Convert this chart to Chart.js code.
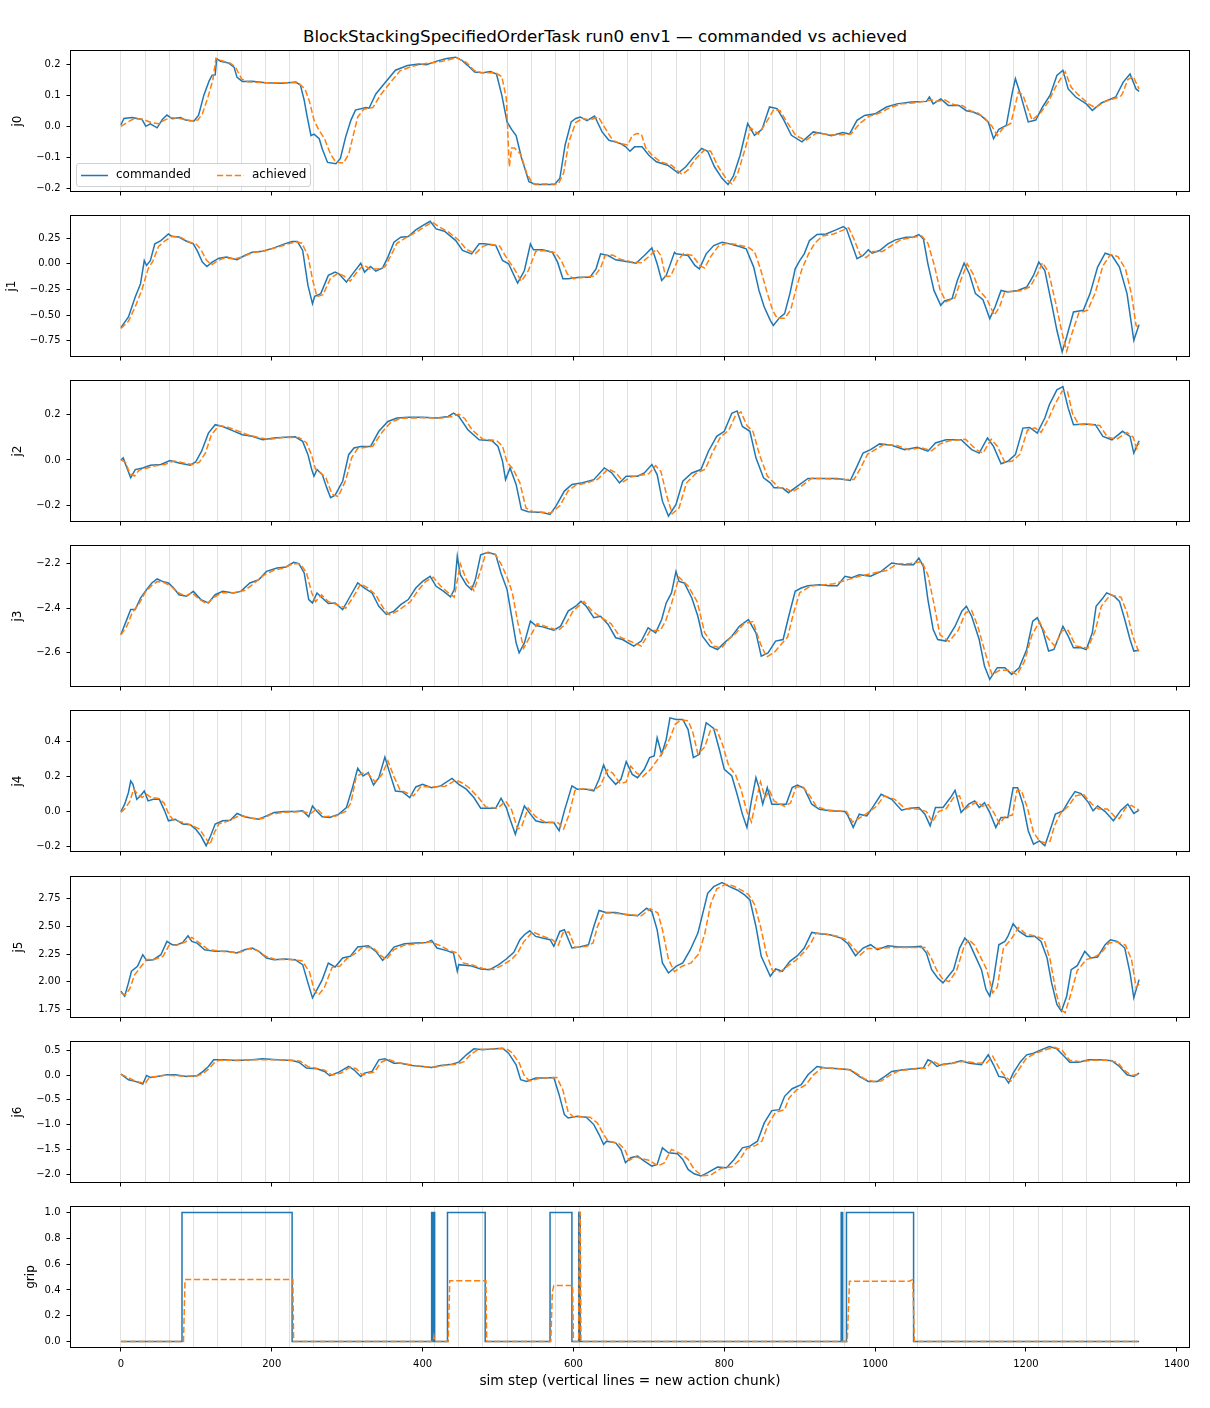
<!DOCTYPE html>
<html lang="en">
<head>
  <meta charset="UTF-8" />
  <title>BlockStackingSpecifiedOrderTask run0 env1 — commanded vs achieved</title>
  <script src="https://cdn.jsdelivr.net/npm/chart.js"></script>
  <style>
    body {
      margin: 0;
      background: #ffffff;
      font-family: 'DejaVu Sans', sans-serif;
    }

    #fig {
      position: relative;
      width: 1210px;
      height: 1408px;
      overflow: hidden;
    }

    h1 {
      position: absolute;
      top: 26px;
      left: 0;
      width: 1210px;
      margin: 0;
      text-align: center;
      font-size: 16.7px;
      line-height: 20px;
      font-weight: normal;
      color: #000;
    }

    canvas {
      position: absolute;
      left: 0;
    }

    .legend {
      position: absolute;
      left: 76px;
      top: 163px;
      width: 233px;
      height: 22px;
      border: 1px solid #d0d0d0;
      border-radius: 3px;
      background: rgba(255, 255, 255, 0.8);
      font-size: 12px;
      color: #000;
      z-index: 5;
    }

    .legend svg {
      position: absolute;
      top: 0;
      left: 0;
    }

    .legend span {
      position: absolute;
      top: 3px;
      line-height: 15px;
    }
  </style>
</head>

<body>
  <div id="fig">
    <h1>BlockStackingSpecifiedOrderTask run0 env1 — commanded vs achieved</h1>
    <div class="legend">
      <svg width="233" height="22">
        <line x1="4" y1="11.5" x2="31" y2="11.5" stroke="#1f77b4" stroke-width="1.5" />
        <line x1="140" y1="11.5" x2="167" y2="11.5" stroke="#ff7f0e" stroke-width="1.5" stroke-dasharray="6.2 2.7" />
      </svg>
      <span style="left:39px">commanded</span>
      <span style="left:175px">achieved</span>
    </div>
  </div>

  <script>
    // [sim step, value]
    const j0Cmd = [[0,.005],[4,.025],[15,.028],[28,.022],[33,0],[39,.008],[48,-.005],[55,.022],[61,.036],[68,.024],[79,.028],[86,.02],[97,.017],[103,.036],[110,.1],[117,.146],[121,.164],[125,.165],[127,.217],[132,.209],[143,.203],[150,.19],[154,.157],[161,.144],[174,.145],[192,.14],[214,.138],[232,.142],[238,.132],[243,.084],[247,.03],[252,-.03],[256,-.025],[263,-.04],[267,-.073],[274,-.116],[285,-.12],[291,-.103],[298,-.034],[305,.02],[311,.052],[325,.06],[329,.058],[338,.104],[351,.142],[364,.18],[380,.195],[395,.2],[405,.198],[420,.21],[432,.218],[444,.222],[452,.212],[460,.195],[469,.174],[480,.172],[490,.176],[498,.168],[505,.1],[512,.014],[518,-.01],[524,-.03],[531,-.1],[541,-.178],[550,-.187],[575,-.187],[582,-.167],[589,-.06],[597,.014],[603,.025],[609,.03],[618,.018],[628,.033],[638,-.018],[647,-.045],[655,-.05],[662,-.055],[669,-.065],[675,-.08],[681,-.066],[691,-.066],[700,-.093],[710,-.114],[725,-.125],[739,-.15],[749,-.13],[758,-.103],[770,-.071],[778,-.08],[787,-.13],[797,-.167],[805,-.187],[812,-.16],[821,-.093],[831,.009],[840,-.029],[850,-.01],[860,.062],[870,.057],[879,.02],[889,-.029],[903,-.05],[918,-.018],[928,-.022],[942,-.03],[957,-.02],[966,-.025],[976,.019],[986,.035],[1000,.04],[1015,.062],[1029,.072],[1048,.078],[1068,.08],[1072,.094],[1077,.072],[1087,.088],[1097,.067],[1111,.067],[1121,.05],[1130,.046],[1140,.035],[1150,.014],[1157,-.04],[1164,-.01],[1174,.003],[1182,.11],[1186,.153],[1193,.1],[1203,.014],[1213,.02],[1222,.062],[1232,.1],[1241,.163],[1249,.18],[1256,.12],[1266,.094],[1280,.072],[1288,.051],[1300,.075],[1319,.094],[1329,.142],[1338,.168],[1346,.12],[1350,.112]];
    const j0Ach = [[0,0],[10,.015],[18,.025],[30,.022],[40,.012],[50,.008],[58,.02],[66,.028],[80,.024],[92,.017],[102,.02],[108,.04],[115,.09],[122,.15],[126,.218],[132,.212],[145,.203],[152,.19],[160,.152],[168,.143],[190,.14],[235,.14],[244,.12],[250,.08],[256,.02],[262,-.01],[270,-.04],[278,-.09],[285,-.115],[295,-.118],[302,-.09],[308,-.03],[314,.03],[322,.055],[334,.06],[344,.1],[357,.14],[370,.178],[385,.192],[400,.2],[425,.208],[445,.22],[458,.205],[468,.18],[478,.172],[496,.172],[505,.16],[511,.09],[515,-.13],[518,-.07],[522,-.07],[530,-.09],[538,-.15],[546,-.185],[580,-.185],[587,-.15],[594,-.05],[603,.012],[612,.025],[622,.02],[633,.03],[643,-.01],[652,-.045],[662,-.055],[672,-.06],[678,-.03],[684,-.023],[690,-.025],[696,-.07],[705,-.095],[716,-.115],[730,-.125],[744,-.155],[752,-.14],[762,-.105],[774,-.075],[782,-.08],[792,-.13],[803,-.17],[810,-.185],[818,-.15],[828,-.07],[835,-.005],[845,-.025],[855,.01],[866,.055],[874,.05],[884,.01],[895,-.03],[908,-.045],[922,-.022],[945,-.028],[968,-.025],[980,.01],[992,.032],[1005,.042],[1020,.06],[1035,.072],[1055,.076],[1075,.085],[1082,.08],[1092,.085],[1104,.07],[1116,.066],[1126,.05],[1136,.043],[1146,.025],[1155,0],[1162,-.03],[1170,-.005],[1180,.01],[1190,.11],[1196,.1],[1208,.02],[1220,.045],[1230,.08],[1240,.13],[1252,.175],[1260,.125],[1270,.1],[1284,.07],[1292,.06],[1305,.08],[1325,.095],[1328,.105],[1335,.15],[1342,.16],[1350,.12]];

    const j1Cmd = [[0,-.621],[10,-.517],[19,-.323],[26,-.194],[31,.032],[34,-.016],[39,.03],[45,.194],[53,.226],[63,.29],[68,.265],[77,.26],[87,.22],[96,.194],[101,.13],[108,.016],[114,-.026],[121,.016],[130,.055],[140,.065],[154,.039],[164,.081],[174,.113],[188,.123],[203,.155],[217,.194],[227,.217],[234,.217],[241,.13],[248,-.21],[254,-.388],[257,-.317],[265,-.29],[275,-.113],[284,-.081],[289,-.097],[299,-.178],[309,-.081],[318,.006],[323,-.081],[331,-.026],[338,-.071],[347,-.039],[354,.065],[362,.21],[371,.259],[381,.265],[391,.33],[400,.372],[410,.414],[418,.34],[429,.317],[444,.226],[453,.13],[465,.097],[475,.194],[482,.194],[497,.178],[506,.032],[514,0],[526,-.188],[535,-.065],[543,.194],[547,.136],[559,.136],[572,.113],[579,.016],[586,-.146],[593,-.146],[608,-.13],[622,-.13],[630,-.049],[636,.097],[646,.081],[656,.039],[670,.023],[683,.006],[694,.081],[704,.155],[711,0],[717,-.162],[723,-.113],[734,.112],[736,.097],[743,.09],[752,.081],[761,-.016],[767,-.049],[776,.097],[786,.178],[797,.21],[807,.194],[820,.168],[829,.146],[839,-.032],[846,-.259],[853,-.42],[861,-.55],[865,-.6],[873,-.527],[880,-.485],[887,-.29],[894,-.049],[900,.032],[906,.097],[913,.226],[923,.285],[935,.291],[948,.33],[958,.362],[962,.34],[969,.194],[976,.049],[984,.081],[991,.136],[996,.103],[1006,.129],[1017,.194],[1027,.233],[1041,.259],[1051,.262],[1058,.285],[1064,.243],[1070,0],[1078,-.259],[1087,-.404],[1092,-.362],[1102,-.34],[1109,-.162],[1118,.006],[1125,-.097],[1133,-.29],[1143,-.349],[1152,-.534],[1159,-.42],[1167,-.259],[1176,-.275],[1189,-.259],[1201,-.226],[1210,-.113],[1217,.016],[1225,-.065],[1234,-.388],[1241,-.647],[1248,-.857],[1254,-.71],[1263,-.469],[1276,-.453],[1285,-.29],[1295,-.032],[1305,.103],[1314,.081],[1324,-.032],[1334,-.29],[1343,-.744],[1350,-.592]];
    const j1Ach = [[0,-.63],[10,-.56],[20,-.4],[28,-.25],[36,-.05],[42,.02],[50,.17],[58,.22],[68,.27],[80,.255],[90,.215],[100,.19],[106,.14],[113,.04],[120,-.01],[128,.03],[138,.06],[150,.045],[162,.07],[175,.11],[190,.125],[205,.155],[220,.19],[232,.215],[240,.2],[248,.08],[254,-.15],[260,-.32],[268,-.3],[278,-.14],[288,-.09],[296,-.12],[304,-.17],[313,-.08],[322,-.01],[330,-.05],[340,-.05],[350,-.03],[358,.08],[366,.2],[378,.255],[392,.31],[402,.36],[413,.405],[422,.36],[434,.31],[448,.23],[458,.14],[470,.1],[480,.17],[490,.19],[502,.175],[512,.05],[520,-.03],[531,-.17],[540,-.07],[550,.12],[560,.13],[576,.11],[584,.03],[592,-.1],[600,-.145],[615,-.13],[628,-.12],[636,-.04],[642,.08],[652,.085],[662,.045],[676,.02],[690,.01],[700,.07],[710,.14],[716,.08],[722,-.12],[729,-.12],[738,.03],[746,.1],[758,.08],[768,-.02],[774,-.04],[782,.07],[792,.17],[803,.2],[815,.19],[832,.16],[840,.12],[848,-.05],[856,-.26],[864,-.45],[870,-.53],[880,-.53],[888,-.45],[895,-.25],[903,-.05],[912,.1],[920,.2],[930,.27],[945,.29],[955,.32],[965,.35],[972,.24],[980,.09],[988,.06],[997,.12],[1010,.12],[1022,.18],[1034,.235],[1048,.255],[1062,.27],[1070,.2],[1078,0],[1086,-.25],[1094,-.37],[1106,-.33],[1114,-.15],[1122,0],[1130,-.1],[1138,-.26],[1148,-.34],[1158,-.5],[1165,-.42],[1172,-.27],[1183,-.27],[1195,-.26],[1206,-.22],[1215,-.1],[1222,.01],[1230,-.08],[1240,-.4],[1248,-.68],[1254,-.85],[1260,-.7],[1270,-.48],[1282,-.45],[1292,-.28],[1302,-.02],[1312,.09],[1322,.07],[1332,-.05],[1340,-.3],[1346,-.6],[1350,-.62]];

    const j2Cmd = [[0,0],[3,.009],[8,-.035],[13,-.078],[19,-.042],[29,-.035],[39,-.023],[53,-.02],[65,-.003],[77,-.013],[92,-.023],[99,-.009],[107,.038],[116,.117],[125,.154],[135,.146],[148,.128],[161,.11],[174,.103],[188,.088],[203,.096],[217,.099],[231,.101],[241,.081],[248,.023],[253,-.042],[256,-.071],[260,-.042],[267,-.064],[273,-.122],[278,-.165],[284,-.154],[294,-.093],[302,.023],[309,.052],[318,.059],[331,.059],[342,.125],[354,.168],[366,.183],[381,.186],[400,.186],[419,.183],[434,.19],[441,.204],[448,.19],[460,.132],[475,.088],[492,.084],[500,.059],[506,-.006],[510,-.086],[516,-.035],[524,-.107],[531,-.216],[540,-.226],[559,-.23],[569,-.238],[577,-.201],[588,-.136],[598,-.107],[612,-.1],[627,-.086],[641,-.035],[651,-.057],[661,-.1],[670,-.071],[685,-.071],[694,-.057],[704,-.02],[711,-.064],[718,-.18],[726,-.245],[736,-.194],[745,-.093],[757,-.057],[769,-.042],[779,.038],[790,.103],[800,.125],[810,.204],[817,.214],[824,.146],[834,.125],[842,.009],[852,-.078],[861,-.1],[866,-.122],[877,-.122],[885,-.143],[897,-.114],[911,-.081],[931,-.081],[950,-.081],[967,-.09],[974,-.042],[984,.03],[994,.045],[1006,.07],[1022,.064],[1039,.045],[1056,.055],[1070,.038],[1080,.074],[1094,.088],[1114,.088],[1128,.045],[1138,.03],[1149,.096],[1157,.059],[1167,-.017],[1176,-.006],[1186,.023],[1196,.139],[1205,.142],[1215,.117],[1225,.183],[1231,.241],[1241,.306],[1249,.32],[1256,.226],[1263,.154],[1278,.157],[1292,.154],[1302,.103],[1314,.088],[1328,.125],[1338,.103],[1343,.03],[1350,.084]];
    const j2Ach = [[0,0],[6,-.01],[12,-.06],[18,-.07],[24,-.045],[35,-.035],[45,-.025],[58,-.02],[70,-.005],[82,-.012],[95,-.02],[104,-.01],[112,.03],[120,.11],[130,.15],[140,.145],[154,.128],[168,.11],[180,.1],[195,.09],[215,.098],[236,.098],[246,.075],[253,.02],[258,-.04],[266,-.06],[272,-.08],[280,-.15],[288,-.16],[298,-.09],[306,.01],[314,.05],[334,.06],[346,.12],[358,.165],[372,.182],[400,.184],[425,.183],[440,.19],[448,.2],[456,.18],[466,.13],[480,.09],[498,.085],[506,.06],[512,-.01],[520,-.04],[529,-.1],[537,-.21],[546,-.225],[570,-.232],[582,-.2],[593,-.135],[603,-.11],[618,-.1],[632,-.085],[646,-.04],[656,-.055],[666,-.095],[676,-.075],[700,-.06],[709,-.025],[716,-.05],[724,-.16],[731,-.235],[740,-.21],[750,-.1],[762,-.06],[775,-.04],[784,.03],[795,.1],[806,.13],[815,.195],[822,.21],[830,.15],[838,.125],[847,.02],[857,-.07],[866,-.1],[872,-.12],[882,-.125],[890,-.14],[902,-.115],[916,-.08],[960,-.085],[972,-.085],[980,-.04],[990,.025],[1000,.045],[1012,.068],[1030,.062],[1044,.045],[1062,.053],[1075,.04],[1086,.07],[1100,.085],[1120,.09],[1134,.045],[1143,.03],[1154,.09],[1162,.06],[1172,-.01],[1182,-.005],[1192,.025],[1202,.13],[1212,.14],[1220,.12],[1230,.18],[1238,.24],[1248,.3],[1255,.3],[1262,.2],[1270,.155],[1285,.155],[1298,.15],[1308,.1],[1320,.09],[1334,.12],[1342,.1],[1347,.05],[1350,.075]];

    const j3Cmd = [[0,-2.518],[7,-2.458],[13,-2.406],[19,-2.406],[26,-2.354],[34,-2.316],[41,-2.286],[48,-2.268],[55,-2.279],[63,-2.286],[70,-2.309],[77,-2.339],[87,-2.346],[96,-2.324],[106,-2.361],[116,-2.376],[125,-2.339],[135,-2.324],[149,-2.331],[159,-2.324],[171,-2.286],[183,-2.271],[193,-2.234],[207,-2.219],[219,-2.214],[229,-2.193],[236,-2.199],[243,-2.241],[249,-2.361],[254,-2.376],[260,-2.331],[267,-2.354],[275,-2.379],[284,-2.376],[294,-2.406],[304,-2.346],[314,-2.286],[323,-2.309],[333,-2.331],[342,-2.391],[352,-2.428],[362,-2.413],[371,-2.384],[381,-2.361],[391,-2.309],[400,-2.279],[410,-2.256],[418,-2.301],[428,-2.324],[437,-2.349],[442,-2.316],[446,-2.166],[450,-2.249],[458,-2.294],[465,-2.316],[470,-2.271],[477,-2.159],[487,-2.148],[497,-2.159],[504,-2.241],[512,-2.316],[518,-2.436],[524,-2.556],[528,-2.601],[535,-2.556],[543,-2.458],[550,-2.478],[559,-2.484],[574,-2.499],[583,-2.481],[593,-2.413],[603,-2.391],[610,-2.369],[617,-2.391],[627,-2.443],[636,-2.436],[646,-2.473],[656,-2.533],[665,-2.541],[680,-2.571],[690,-2.548],[699,-2.488],[709,-2.511],[717,-2.451],[723,-2.376],[730,-2.331],[736,-2.234],[740,-2.279],[747,-2.286],[757,-2.354],[765,-2.436],[771,-2.526],[781,-2.571],[791,-2.586],[800,-2.556],[810,-2.526],[820,-2.481],[832,-2.451],[842,-2.511],[849,-2.616],[858,-2.601],[868,-2.548],[878,-2.541],[885,-2.443],[894,-2.324],[902,-2.309],[911,-2.299],[926,-2.294],[940,-2.299],[950,-2.299],[960,-2.256],[969,-2.262],[979,-2.249],[994,-2.256],[1008,-2.234],[1022,-2.196],[1037,-2.204],[1051,-2.204],[1058,-2.174],[1064,-2.211],[1070,-2.361],[1077,-2.496],[1083,-2.541],[1094,-2.548],[1106,-2.481],[1115,-2.413],[1121,-2.391],[1128,-2.436],[1138,-2.541],[1145,-2.661],[1152,-2.721],[1162,-2.668],[1172,-2.668],[1181,-2.698],[1191,-2.668],[1201,-2.586],[1209,-2.458],[1215,-2.443],[1222,-2.496],[1230,-2.593],[1237,-2.586],[1244,-2.526],[1249,-2.481],[1256,-2.526],[1263,-2.578],[1273,-2.578],[1280,-2.586],[1288,-2.511],[1293,-2.391],[1302,-2.354],[1307,-2.331],[1317,-2.346],[1324,-2.369],[1331,-2.451],[1338,-2.541],[1343,-2.593],[1350,-2.589]];
    const j3Ach = [[0,-2.52],[8,-2.48],[15,-2.42],[24,-2.38],[32,-2.33],[40,-2.3],[48,-2.28],[58,-2.285],[66,-2.3],[76,-2.33],[86,-2.345],[94,-2.33],[104,-2.36],[114,-2.38],[124,-2.35],[134,-2.33],[150,-2.33],[164,-2.32],[176,-2.29],[190,-2.25],[202,-2.23],[215,-2.22],[228,-2.2],[238,-2.2],[246,-2.24],[253,-2.33],[258,-2.37],[266,-2.34],[275,-2.37],[288,-2.385],[298,-2.4],[308,-2.35],[318,-2.29],[328,-2.31],[338,-2.34],[348,-2.4],[356,-2.43],[368,-2.41],[384,-2.37],[394,-2.32],[404,-2.28],[414,-2.26],[424,-2.3],[434,-2.33],[442,-2.35],[450,-2.2],[458,-2.27],[468,-2.32],[476,-2.24],[484,-2.15],[496,-2.155],[504,-2.2],[512,-2.26],[519,-2.33],[526,-2.46],[534,-2.58],[542,-2.53],[552,-2.47],[566,-2.485],[580,-2.5],[590,-2.47],[600,-2.41],[614,-2.37],[624,-2.41],[636,-2.44],[650,-2.47],[662,-2.53],[676,-2.55],[690,-2.57],[702,-2.5],[715,-2.5],[722,-2.46],[730,-2.38],[740,-2.26],[752,-2.3],[764,-2.37],[774,-2.51],[786,-2.57],[796,-2.58],[806,-2.54],[816,-2.51],[826,-2.47],[838,-2.46],[848,-2.56],[856,-2.62],[866,-2.6],[876,-2.56],[884,-2.53],[892,-2.42],[900,-2.33],[915,-2.3],[930,-2.295],[945,-2.29],[965,-2.27],[980,-2.255],[1000,-2.24],[1015,-2.23],[1030,-2.2],[1045,-2.2],[1062,-2.19],[1070,-2.25],[1078,-2.38],[1086,-2.52],[1098,-2.55],[1110,-2.5],[1120,-2.42],[1128,-2.41],[1136,-2.48],[1146,-2.6],[1155,-2.7],[1165,-2.68],[1178,-2.68],[1188,-2.7],[1198,-2.64],[1208,-2.52],[1218,-2.46],[1228,-2.53],[1238,-2.57],[1248,-2.5],[1256,-2.5],[1266,-2.57],[1282,-2.58],[1292,-2.5],[1300,-2.39],[1312,-2.34],[1326,-2.35],[1334,-2.42],[1342,-2.53],[1350,-2.6]];

    const j4Cmd = [[0,0],[5,.042],[10,.109],[13,.175],[16,.156],[21,.07],[26,.09],[31,.118],[36,.061],[43,.07],[51,.07],[58,.004],[63,-.053],[72,-.044],[82,-.072],[92,-.076],[99,-.101],[106,-.139],[113,-.196],[119,-.139],[125,-.072],[135,-.053],[145,-.05],[154,-.011],[164,-.03],[174,-.038],[183,-.044],[193,-.025],[203,-.006],[217,0],[231,0],[241,.004],[249,-.03],[254,.032],[260,0],[267,-.03],[277,-.034],[289,-.015],[299,.023],[307,.137],[314,.248],[321,.204],[328,.223],[335,.152],[342,.194],[350,.312],[357,.213],[364,.118],[373,.114],[383,.08],[391,.141],[400,.156],[412,.137],[424,.147],[439,.19],[448,.156],[458,.128],[468,.08],[477,.019],[487,.019],[497,.019],[504,.076],[511,.023],[516,-.044],[523,-.13],[527,-.072],[535,.032],[543,-.015],[550,-.053],[559,-.063],[574,-.063],[581,-.11],[588,.004],[598,.147],[605,.128],[617,.128],[627,.118],[634,.185],[640,.267],[646,.204],[656,.156],[663,.185],[670,.286],[678,.213],[685,.194],[694,.242],[701,.309],[707,.318],[711,.423],[717,.328],[723,.413],[728,.537],[736,.528],[745,.528],[752,.47],[759,.309],[767,.328],[776,.509],[786,.476],[794,.347],[800,.242],[810,.204],[817,.099],[824,-.015],[830,-.091],[836,.061],[842,.194],[846,.137],[851,.042],[857,.137],[863,.042],[873,.042],[882,.042],[890,.137],[897,.152],[906,.133],[916,.042],[926,.013],[940,.004],[960,0],[964,-.025],[971,-.091],[979,-.015],[989,-.025],[998,.032],[1008,.099],[1022,.07],[1035,.008],[1046,.019],[1058,.023],[1066,-.015],[1073,-.082],[1080,.023],[1090,.023],[1100,.08],[1106,.122],[1114,-.006],[1124,.042],[1132,.061],[1138,.023],[1145,.051],[1152,-.006],[1160,-.091],[1167,-.034],[1176,-.034],[1183,.137],[1189,.137],[1196,.042],[1203,-.11],[1210,-.187],[1218,-.168],[1225,-.196],[1231,-.12],[1239,-.015],[1249,.004],[1258,.07],[1265,.114],[1273,.103],[1283,.051],[1289,.004],[1295,.032],[1305,0],[1316,-.053],[1326,.008],[1335,.042],[1343,-.011],[1350,.008]];
    const j4Ach = [[0,-.005],[6,.02],[12,.06],[17,.13],[22,.1],[28,.08],[34,.1],[40,.08],[50,.075],[57,.05],[64,-.02],[70,-.05],[80,-.06],[92,-.075],[104,-.1],[112,-.15],[118,-.19],[124,-.12],[130,-.07],[142,-.055],[154,-.03],[162,-.025],[176,-.04],[188,-.04],[200,-.015],[215,-.005],[240,0],[252,-.01],[260,.015],[270,-.03],[285,-.025],[298,0],[305,.05],[312,.2],[320,.22],[328,.215],[337,.17],[346,.21],[354,.29],[362,.2],[370,.125],[380,.105],[388,.09],[398,.145],[412,.14],[430,.145],[444,.18],[452,.165],[462,.135],[474,.08],[484,.025],[500,.02],[510,.06],[518,.01],[526,-.1],[531,-.09],[540,.02],[550,-.03],[562,-.06],[580,-.065],[587,-.1],[594,-.02],[602,.12],[612,.13],[628,.125],[636,.15],[645,.24],[652,.22],[662,.16],[670,.17],[676,.26],[684,.22],[692,.2],[702,.24],[712,.3],[720,.35],[728,.42],[735,.5],[742,.525],[752,.52],[758,.46],[765,.33],[774,.37],[782,.47],[790,.47],[798,.38],[806,.26],[815,.21],[822,.13],[830,0],[836,-.06],[842,.06],[848,.17],[854,.08],[860,.12],[866,.06],[880,.03],[888,.05],[895,.14],[904,.14],[912,.1],[922,.03],[935,.01],[962,0],[970,-.06],[978,-.04],[986,-.02],[1002,.03],[1012,.09],[1026,.07],[1040,.015],[1056,.015],[1068,0],[1076,-.06],[1084,0],[1094,.015],[1104,.08],[1112,.09],[1118,.01],[1128,.04],[1136,.055],[1142,.03],[1150,.04],[1158,-.01],[1165,-.07],[1172,-.03],[1182,-.02],[1188,.12],[1194,.12],[1202,.02],[1210,-.12],[1218,-.17],[1226,-.18],[1232,-.17],[1238,-.08],[1246,-.01],[1256,.03],[1266,.09],[1276,.1],[1288,.04],[1296,.015],[1308,.015],[1318,-.03],[1324,-.04],[1332,.02],[1340,.035],[1350,.008]];

    const j5Cmd = [[0,1.914],[5,1.869],[10,1.989],[14,2.094],[22,2.139],[29,2.244],[34,2.193],[43,2.199],[53,2.244],[61,2.364],[68,2.334],[75,2.334],[82,2.355],[89,2.415],[94,2.364],[101,2.349],[111,2.289],[125,2.274],[140,2.274],[154,2.259],[164,2.289],[174,2.304],[183,2.274],[193,2.214],[203,2.199],[217,2.205],[231,2.199],[241,2.154],[248,1.989],[254,1.854],[260,1.929],[267,2.019],[275,2.169],[284,2.133],[294,2.214],[304,2.229],[314,2.313],[328,2.325],[338,2.274],[347,2.193],[354,2.244],[362,2.313],[376,2.343],[391,2.349],[405,2.355],[412,2.373],[419,2.304],[431,2.283],[441,2.259],[446,2.094],[448,2.154],[463,2.145],[477,2.115],[489,2.109],[501,2.154],[511,2.205],[521,2.265],[529,2.379],[535,2.424],[542,2.46],[550,2.409],[559,2.394],[569,2.379],[574,2.319],[582,2.454],[588,2.469],[598,2.304],[608,2.313],[620,2.334],[627,2.499],[634,2.643],[643,2.625],[656,2.625],[670,2.604],[685,2.595],[697,2.664],[704,2.634],[711,2.469],[718,2.169],[726,2.079],[736,2.139],[745,2.169],[755,2.289],[765,2.439],[771,2.604],[778,2.799],[786,2.859],[797,2.895],[807,2.859],[817,2.829],[827,2.784],[834,2.739],[842,2.499],[849,2.229],[855,2.139],[861,2.049],[868,2.115],[877,2.094],[887,2.184],[897,2.235],[906,2.304],[916,2.445],[926,2.433],[940,2.424],[955,2.394],[964,2.343],[974,2.235],[984,2.304],[994,2.334],[1003,2.289],[1017,2.325],[1032,2.313],[1046,2.313],[1061,2.319],[1068,2.259],[1075,2.109],[1083,2.034],[1090,1.989],[1097,2.049],[1104,2.109],[1112,2.304],[1119,2.394],[1125,2.349],[1133,2.229],[1141,2.109],[1147,1.929],[1152,1.869],[1157,2.019],[1164,2.334],[1172,2.364],[1176,2.409],[1183,2.523],[1191,2.454],[1201,2.409],[1212,2.409],[1220,2.364],[1228,2.214],[1234,1.989],[1241,1.794],[1247,1.734],[1254,1.869],[1260,2.109],[1268,2.145],[1278,2.274],[1286,2.214],[1295,2.223],[1305,2.334],[1312,2.379],[1321,2.364],[1331,2.304],[1338,2.079],[1343,1.854],[1350,2.019]];
    const j5Ach = [[0,1.9],[6,1.88],[12,1.94],[18,2.06],[26,2.13],[34,2.2],[44,2.2],[56,2.23],[64,2.33],[74,2.33],[86,2.36],[94,2.4],[104,2.35],[116,2.29],[132,2.275],[150,2.265],[160,2.27],[170,2.3],[180,2.285],[192,2.23],[205,2.2],[225,2.2],[240,2.19],[250,2.09],[256,1.93],[262,1.88],[270,1.95],[280,2.13],[290,2.14],[300,2.21],[312,2.26],[320,2.31],[334,2.31],[344,2.24],[352,2.2],[362,2.29],[376,2.33],[395,2.345],[410,2.36],[422,2.33],[436,2.28],[446,2.26],[454,2.17],[466,2.15],[480,2.12],[494,2.11],[506,2.15],[518,2.2],[526,2.26],[534,2.36],[546,2.45],[556,2.42],[572,2.38],[580,2.33],[586,2.44],[594,2.45],[602,2.31],[618,2.32],[626,2.35],[632,2.5],[640,2.62],[650,2.62],[670,2.61],[690,2.595],[702,2.66],[712,2.62],[718,2.47],[726,2.2],[734,2.09],[744,2.14],[756,2.17],[766,2.25],[774,2.43],[782,2.7],[790,2.84],[802,2.88],[812,2.865],[822,2.83],[832,2.79],[840,2.7],[848,2.5],[856,2.25],[864,2.1],[874,2.09],[884,2.14],[896,2.2],[906,2.27],[914,2.34],[922,2.44],[935,2.43],[950,2.41],[962,2.38],[972,2.3],[980,2.24],[990,2.3],[1002,2.3],[1020,2.31],[1045,2.31],[1066,2.31],[1074,2.22],[1082,2.1],[1090,2.02],[1098,2],[1108,2.1],[1118,2.32],[1124,2.38],[1132,2.33],[1140,2.22],[1148,2.11],[1156,1.9],[1162,1.95],[1170,2.3],[1182,2.4],[1190,2.49],[1200,2.43],[1214,2.41],[1224,2.38],[1232,2.2],[1240,1.9],[1246,1.75],[1252,1.72],[1260,1.9],[1268,2.1],[1280,2.2],[1290,2.22],[1300,2.26],[1310,2.35],[1320,2.36],[1332,2.33],[1340,2.2],[1346,1.95],[1350,1.98]];

    const j6Cmd = [[0,.02],[10,-.094],[19,-.127],[29,-.181],[34,-.007],[39,-.047],[48,-.027],[61,.007],[72,.007],[87,-.027],[101,-.013],[109,.074],[116,.174],[123,.308],[135,.308],[154,.295],[174,.308],[188,.328],[207,.308],[227,.295],[236,.261],[246,.141],[260,.127],[270,.074],[277,-.013],[289,.06],[302,.174],[309,.107],[318,-.027],[323,.04],[333,.074],[342,.308],[350,.328],[362,.241],[371,.241],[386,.194],[400,.174],[412,.154],[424,.194],[439,.221],[448,.261],[458,.409],[468,.529],[480,.509],[492,.529],[506,.543],[514,.442],[524,.208],[530,-.094],[538,-.127],[550,-.06],[562,-.06],[574,-.047],[581,-.395],[588,-.798],[593,-.865],[605,-.831],[617,-.851],[627,-.999],[634,-1.2],[640,-1.401],[644,-1.334],[656,-1.367],[663,-1.501],[669,-1.769],[676,-1.669],[685,-1.635],[694,-1.736],[704,-1.836],[711,-1.803],[718,-1.468],[726,-1.568],[738,-1.588],[745,-1.702],[752,-1.903],[760,-1.991],[769,-2.038],[778,-1.97],[791,-1.857],[803,-1.87],[813,-1.702],[824,-1.468],[834,-1.434],[844,-1.334],[853,-.965],[863,-.717],[873,-.697],[880,-.429],[890,-.275],[902,-.194],[911,.007],[923,.174],[935,.141],[952,.127],[967,.107],[979,-.027],[991,-.127],[1003,-.127],[1013,-.027],[1022,.074],[1037,.107],[1051,.127],[1064,.141],[1070,.308],[1075,.275],[1082,.174],[1090,.221],[1102,.241],[1114,.288],[1125,.241],[1141,.208],[1150,.409],[1157,.208],[1164,-.027],[1172,-.047],[1177,-.161],[1183,.04],[1193,.275],[1201,.409],[1210,.442],[1220,.509],[1231,.576],[1241,.529],[1251,.375],[1258,.261],[1270,.261],[1283,.308],[1297,.308],[1314,.288],[1324,.174],[1334,.007],[1343,-.027],[1350,.04]];
    const j6Ach = [[0,.02],[8,-.04],[16,-.1],[24,-.14],[32,-.17],[38,-.04],[46,-.03],[60,0],[80,-.02],[100,-.02],[108,.02],[116,.12],[124,.25],[130,.3],[150,.3],[180,.31],[200,.31],[225,.3],[238,.28],[248,.17],[262,.13],[270,.1],[280,0],[292,.04],[304,.16],[312,.13],[320,0],[326,.03],[336,.06],[345,.26],[354,.32],[366,.25],[380,.22],[392,.19],[404,.17],[416,.16],[430,.2],[445,.22],[455,.27],[464,.42],[474,.52],[490,.52],[510,.54],[518,.46],[528,.25],[535,-.02],[542,-.12],[556,-.06],[578,-.05],[586,-.3],[593,-.75],[600,-.84],[622,-.85],[632,-.97],[640,-1.2],[646,-1.33],[660,-1.38],[668,-1.5],[674,-1.72],[682,-1.65],[700,-1.72],[712,-1.83],[720,-1.78],[730,-1.5],[744,-1.6],[752,-1.7],[760,-1.9],[770,-2.03],[782,-2.02],[796,-1.88],[810,-1.85],[820,-1.72],[830,-1.48],[842,-1.42],[850,-1.33],[858,-1],[868,-.75],[880,-.7],[886,-.46],[896,-.3],[908,-.2],[918,0],[930,.15],[945,.14],[965,.11],[976,.03],[986,-.08],[998,-.13],[1008,-.12],[1020,0],[1032,.09],[1050,.12],[1068,.14],[1076,.29],[1086,.2],[1100,.23],[1118,.28],[1135,.24],[1148,.25],[1156,.38],[1164,.15],[1172,-.02],[1180,-.12],[1190,.1],[1200,.33],[1212,.44],[1228,.52],[1238,.56],[1248,.5],[1258,.3],[1272,.27],[1288,.3],[1310,.3],[1322,.25],[1330,.1],[1340,-.01],[1350,.02]];

    const gripCmd = [[0,0],[81,0],[81,1],[227,1],[227,0],[412,0],[412,1],[413,1],[413,0],[415,0],[415,1],[416,1],[416,0],[433,0],[433,1],[483,1],[483,0],[569,0],[569,1],[598,1],[598,0],[607,0],[607,1],[609,1],[609,0],[955,0],[955,1],[957,1],[957,0],[962,0],[962,1],[1051,1],[1051,0],[1350,0]];
    const gripAch = [[0,0],[83,0],[85,.48],[228,.48],[229,0],[414,0],[415,.04],[416,0],[434,0],[436,.47],[484,.47],[485,0],[570,0],[572,.38],[574,.434],[599,.434],[600,0],[607,0],[608,1],[609,1],[610,0],[963,0],[966,.468],[1045,.468],[1050,.48],[1052,0],[1350,0]];

    const j0Ticks = [-0.2, -0.1, 0, 0.1, 0.2];
    const j1Ticks = [-0.75, -0.5, -0.25, 0, 0.25];
    const j2Ticks = [-0.2, 0, 0.2];
    const j3Ticks = [-2.6, -2.4, -2.2];
    const j4Ticks = [-0.2, 0, 0.2, 0.4];
    const j5Ticks = [1.75, 2, 2.25, 2.5, 2.75];
    const j6Ticks = [-2, -1.5, -1, -0.5, 0, 0.5];
    const gripTicks = [0, 0.2, 0.4, 0.6, 0.8, 1];
    const xTicks = [0, 200, 400, 600, 800, 1000, 1200, 1400];

    // a new action chunk every 32 sim steps
    const chunkStarts = Array.from({ length: 43 }, (_, i) => i * 32);

    // labelPad: distance of the y label from the left edge (follows tick label width)
    const panels = [
      { name: 'j0', cmd: j0Cmd, ach: j0Ach, ticks: j0Ticks, dec: 1, min: -0.211, max: 0.245, labelPad: 11 },
      { name: 'j1', cmd: j1Cmd, ach: j1Ach, ticks: j1Ticks, dec: 2, min: -0.907, max: 0.475, labelPad: 5 },
      { name: 'j2', cmd: j2Cmd, ach: j2Ach, ticks: j2Ticks, dec: 1, min: -0.271, max: 0.349, labelPad: 11 },
      { name: 'j3', cmd: j3Cmd, ach: j3Ach, ticks: j3Ticks, dec: 1, min: -2.755, max: -2.115, labelPad: 11 },
      { name: 'j4', cmd: j4Cmd, ach: j4Ach, ticks: j4Ticks, dec: 1, min: -0.232, max: 0.582, labelPad: 11 },
      { name: 'j5', cmd: j5Cmd, ach: j5Ach, ticks: j5Ticks, dec: 2, min: 1.672, max: 2.955, labelPad: 12 },
      { name: 'j6', cmd: j6Cmd, ach: j6Ach, ticks: j6Ticks, dec: 1, min: -2.178, max: 0.688, labelPad: 11 },
      { name: 'grip', cmd: gripCmd, ach: gripAch, ticks: gripTicks, dec: 1, min: -0.05, max: 1.05, labelPad: 23.5 }
    ];

    Chart.defaults.font.family = "'DejaVu Sans', sans-serif";
    Chart.defaults.font.size = 10;
    Chart.defaults.color = '#000';

    const FIG_W = 1210, AX_LEFT = 70, AX_RIGHT = 1190, AX_H = 142, TOP0 = 50, STEP_Y = 165.1, PAD_TOP = 10;

    // matplotlib draws a full box round each axes
    const framePlugin = {
      id: 'frame',
      afterDraw(chart) {
        const { ctx, chartArea: a } = chart;
        ctx.save();
        ctx.strokeStyle = '#000';
        ctx.lineWidth = 1;
        ctx.strokeRect(a.left + 0.5, a.top + 0.5, a.right - a.left - 1, a.bottom - a.top - 1);
        ctx.restore();
      }
    };

    function fmt(v, dec) {
      return v.toFixed(dec).replace('-', '\u2212');
    }

    const toXY = pairs => pairs.map(([x, y]) => ({ x, y }));
    const fig = document.getElementById('fig');

    panels.forEach((p, i) => {
      const last = i === panels.length - 1;
      const xAxisH = last ? 46 : 6;
      const top = Math.round(TOP0 + i * STEP_Y) - PAD_TOP;
      const h = PAD_TOP + AX_H + xAxisH;

      const cv = document.createElement('canvas');
      cv.width = FIG_W;
      cv.height = h;
      cv.style.top = top + 'px';
      cv.style.width = FIG_W + 'px';
      cv.style.height = h + 'px';
      fig.appendChild(cv);

      new Chart(cv, {
        type: 'line',
        data: {
          datasets: [
            {
              label: 'commanded',
              data: toXY(p.cmd),
              xAxisID: 'x',
              yAxisID: 'y',
              borderColor: '#1f77b4',
              borderWidth: 1.5,
              pointRadius: 0,
              tension: 0,
              order: 2
            },
            {
              label: 'achieved',
              data: toXY(p.ach),
              xAxisID: 'x',
              yAxisID: 'y',
              borderColor: '#ff7f0e',
              borderWidth: 1.5,
              borderDash: [6.2, 2.7],
              pointRadius: 0,
              tension: 0,
              order: 1
            }
          ]
        },
        options: {
          responsive: false,
          animation: false,
          events: [],
          layout: { padding: { top: PAD_TOP, right: FIG_W - AX_RIGHT, left: 0, bottom: 0 } },
          plugins: { legend: { display: false }, tooltip: { enabled: false } },
          scales: {
            x: {
              type: 'linear',
              min: -67.5,
              max: 1417.5,
              afterBuildTicks: s => { s.ticks = xTicks.map(v => ({ value: v })); },
              afterFit: s => { s.height = xAxisH; s.paddingLeft = 0; s.paddingRight = 0; },
              ticks: { display: last, padding: 7, maxRotation: 0, autoSkip: false, callback: v => String(v) },
              grid: { drawOnChartArea: false, drawTicks: true, tickLength: 3.5, tickColor: '#000', tickWidth: 1 },
              border: { display: false },
              title: {
                display: last,
                text: 'sim step (vertical lines = new action chunk)',
                font: { size: 13.7 },
                padding: { top: 0, bottom: 4 }
              }
            },
            chunks: {
              type: 'linear',
              axis: 'x',
              position: 'bottom',
              min: -67.5,
              max: 1417.5,
              afterBuildTicks: s => { s.ticks = chunkStarts.map(v => ({ value: v })); },
              afterFit: s => { s.height = 0; s.paddingLeft = 0; s.paddingRight = 0; },
              ticks: { display: false },
              grid: { drawOnChartArea: true, drawTicks: false, color: 'rgba(128,128,128,0.3)', lineWidth: 0.8 },
              border: { display: false }
            },
            y: {
              type: 'linear',
              min: p.min,
              max: p.max,
              afterBuildTicks: s => { s.ticks = p.ticks.map(v => ({ value: v })); },
              afterFit: s => { s.width = AX_LEFT; s.paddingTop = 0; s.paddingBottom = 0; },
              ticks: { padding: 6, callback: v => fmt(v, p.dec) },
              grid: { drawOnChartArea: false, drawTicks: true, tickLength: 3.5, tickColor: '#000', tickWidth: 1 },
              border: { display: false },
              title: {
                display: true,
                text: p.name,
                font: { size: 12 },
                padding: { top: p.labelPad, bottom: 0 }
              }
            }
          }
        },
        plugins: [framePlugin]
      });
    });
  </script>
</body>
</html>
